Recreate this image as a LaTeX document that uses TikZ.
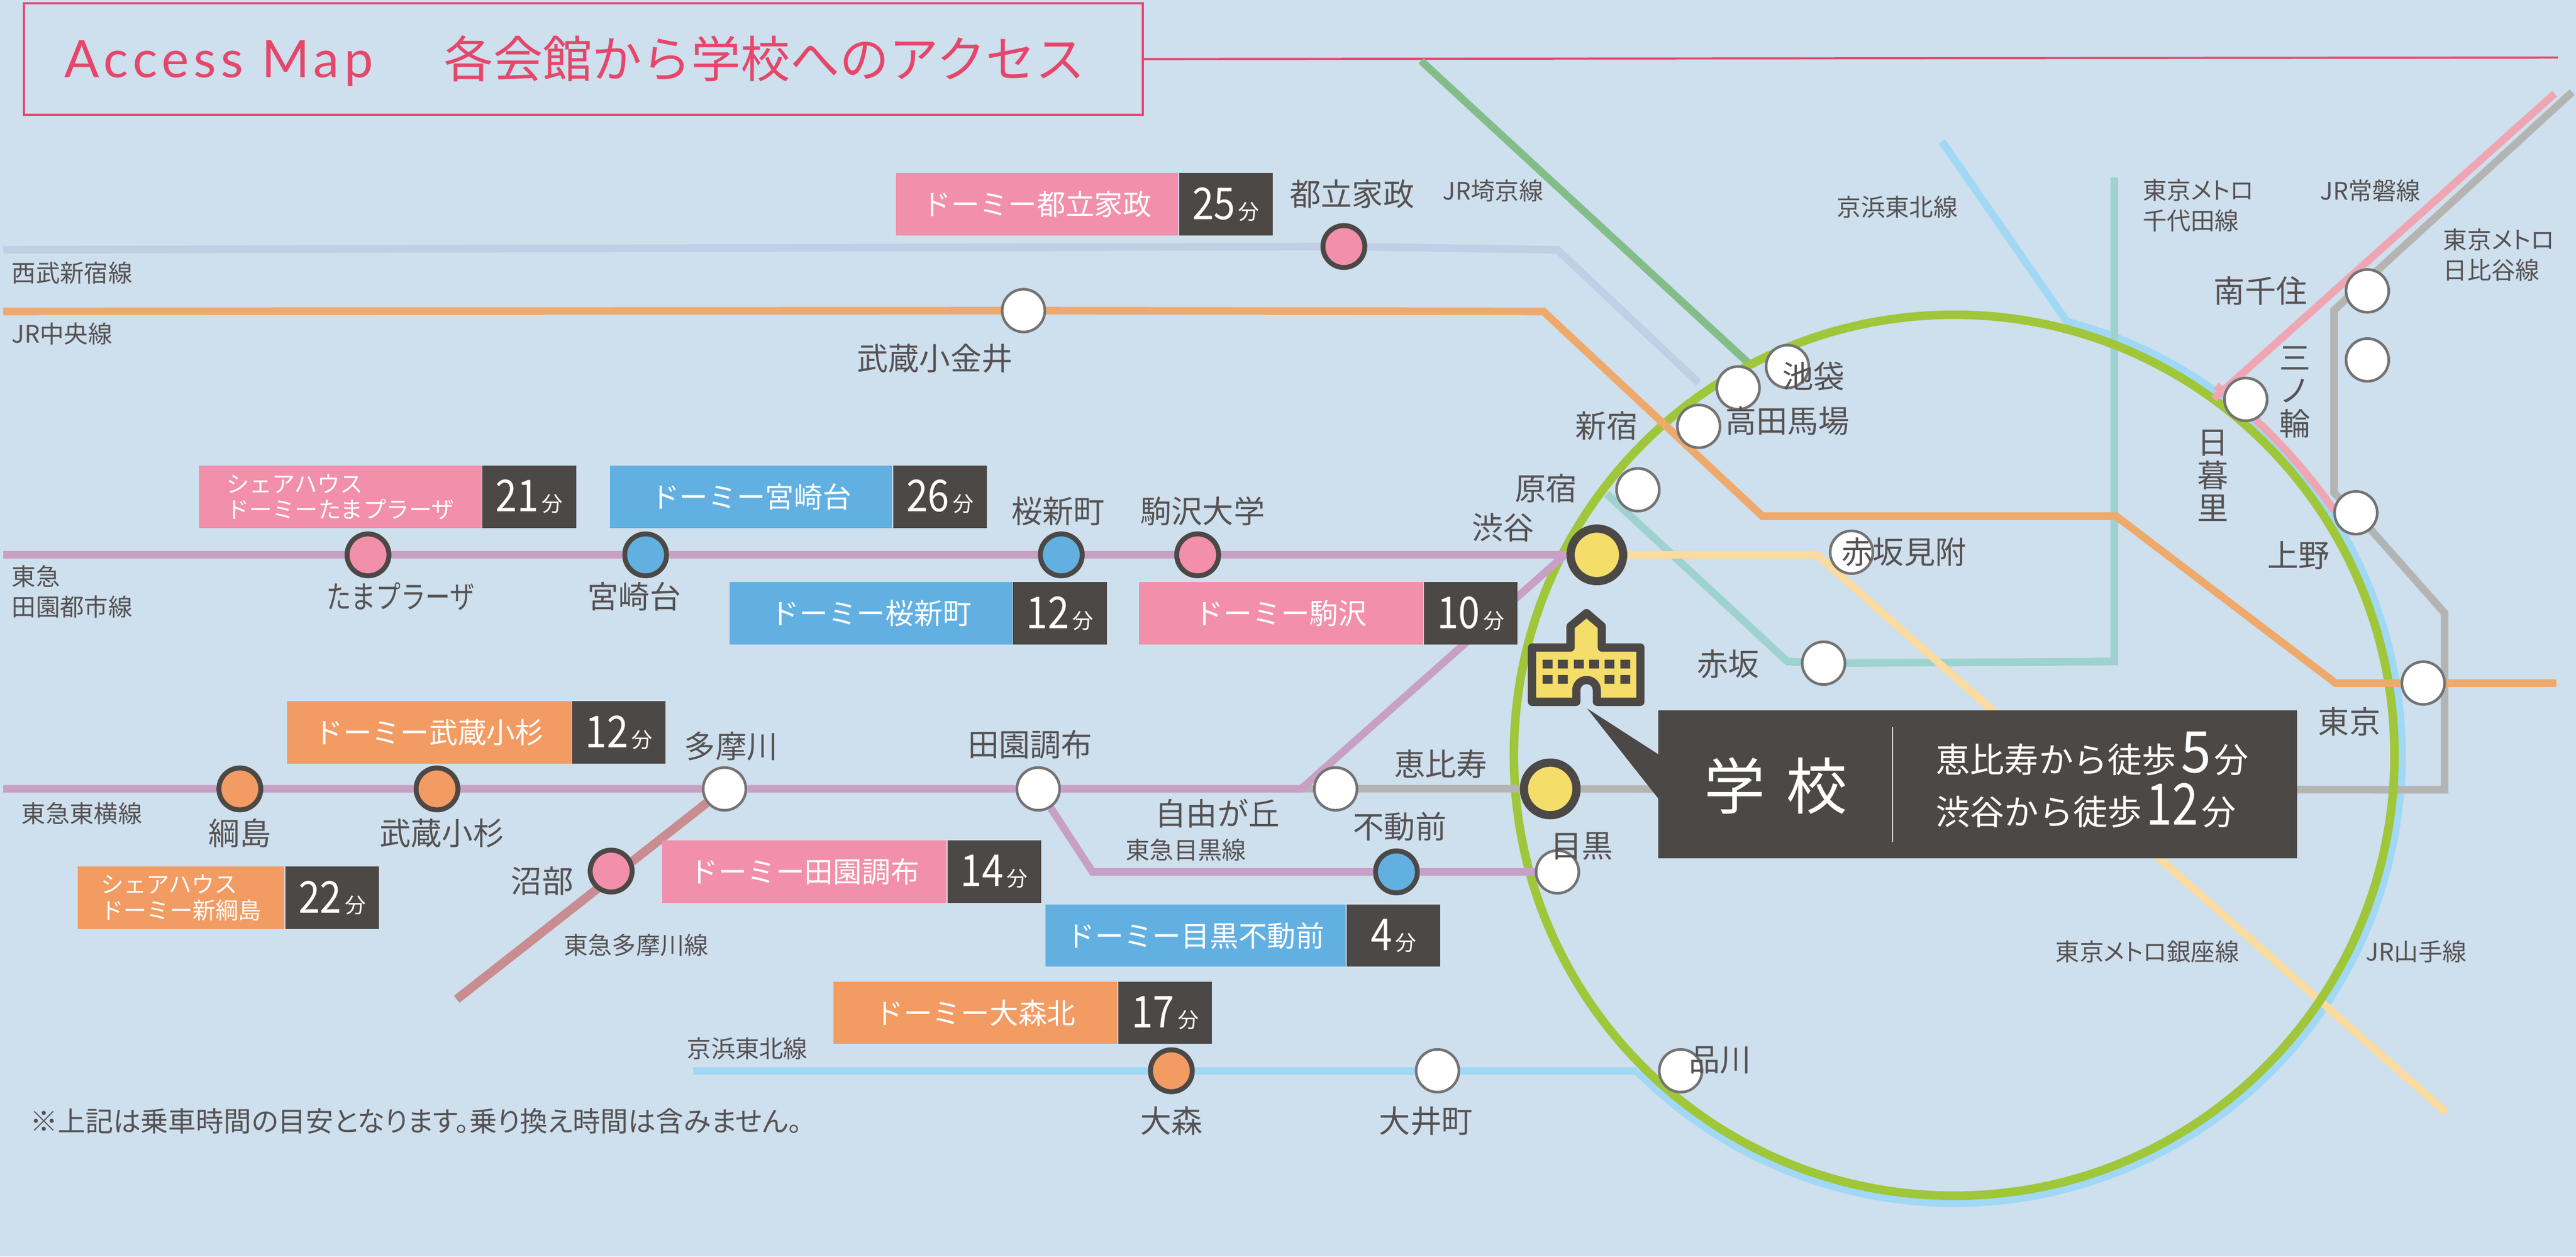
\documentclass[tikz,border=0pt]{standalone}
\usepackage{graphicx}
\usepackage{fontspec}
\setmainfont{Noto Sans CJK JP}
\newfontfamily\accessfont[LetterSpace=9.5]{Lato}
\newfontfamily\notefont[RawFeature=+palt]{Noto Sans CJK JP}
\usetikzlibrary{backgrounds}
\def\u{.030217cm}
\definecolor{pagebg}{HTML}{CEDFED}
\definecolor{inkdark}{HTML}{4C4846}
\definecolor{inktext}{HTML}{565253}
\definecolor{titlered}{HTML}{E5476B}
\definecolor{boxpink}{HTML}{F28FAB}
\definecolor{boxblue}{HTML}{62B0E2}
\definecolor{boxorange}{HTML}{F29B63}
\definecolor{schoolyellow}{HTML}{F4DD68}
\definecolor{ringgreen}{HTML}{A0C639}
\definecolor{ringblue}{HTML}{A0D8F5}
\definecolor{chuoorange}{HTML}{EFA96B}
\definecolor{seibublue}{HTML}{C0CEE6}
\definecolor{saikyogreen}{HTML}{82BD8A}
\definecolor{chiyodateal}{HTML}{9DD2CE}
\definecolor{ginzayellow}{HTML}{FBDB9E}
\definecolor{tokyupurple}{HTML}{C8A0C5}
\definecolor{tamarose}{HTML}{C98C90}
\definecolor{hibiyagray}{HTML}{B4B5B3}
\definecolor{jobanpink}{HTML}{EFA6B2}
\newcommand{\mins}[1]{\scalebox{.88}[1]{\fontsize{23}{23}\selectfont #1}\,{\fontsize{11}{12}\selectfont 分}}
\newcommand{\walkmins}[2]{\hspace{.08cm}\scalebox{#1}[1]{\fontsize{30}{30}\selectfont #2}\hspace{.06cm}{\fontsize{18}{20}\selectfont 分}}
\tikzset{
  railline/.style={line width=4.6*\u},
  stwhite/.style={circle,draw=gray!90!black,fill=white,line width=1.6*\u,minimum size=26*\u,inner sep=0},
  stpink/.style={circle,draw=inkdark,fill=boxpink,line width=3*\u,minimum size=25.5*\u,inner sep=0},
  stblue/.style={circle,draw=inkdark,fill=boxblue,line width=3*\u,minimum size=25.5*\u,inner sep=0},
  storange/.style={circle,draw=inkdark,fill=boxorange,line width=3*\u,minimum size=25.5*\u,inner sep=0},
  stschool/.style={circle,draw=inkdark,fill=schoolyellow,line width=5*\u,minimum size=32*\u,inner sep=0},
  stlabel/.style={text=inktext,inner sep=0,align=center,font=\fontsize{16.3}{19}\selectfont},
  stvert/.style={stlabel,font=\fontsize{16.3}{17.2}\selectfont},
  linelabel/.style={text=inktext,inner sep=0,align=left,anchor=west,font=\fontsize{12.6}{16}\selectfont},
  linepalt/.style={linelabel,font=\notefont\fontsize{12.6}{16}\selectfont},
  namebox/.style={text=white,inner sep=0,minimum height=38*\u,anchor=north west,align=left,font=\fontsize{15}{16}\selectfont},
  namesmall/.style={namebox,font=\fontsize{12}{13.5}\selectfont},
  timebox/.style={fill=inkdark,text=white,inner sep=0,minimum width=57*\u,minimum height=38*\u,anchor=west},
}

\begin{document}
\begin{tikzpicture}[x=.030217cm,y=-.030217cm]
  \useasboundingbox (0,0) rectangle (1568,764.5);

  % Title
  \node[draw=titlered,line width=1.3*\u,inner sep=0,minimum width=681*\u,minimum height=68*\u,anchor=north west] (titlebox) at (14,1.3) {};
  \coordinate (titleend) at (1557,35);
  \node[text=titlered,inner sep=0,anchor=base west,font=\accessfont\fontsize{27}{27}\selectfont] (titleen) at (39,47) {Access Map};
  \node[text=titlered,inner sep=0,anchor=base west,font=\fontsize{25.9}{26}\selectfont] (titleja) at (270,47) {各会館から学校へのアクセス};

  % Stations
  \node[stpink] (toritsu) at (818,150) {};
  \node[stwhite] (koganei) at (623,189) {};
  \node[stpink] (tama) at (224,337.6) {};
  \node[stblue] (miyazaki) at (393,337.6) {};
  \node[stblue] (sakura) at (646,337.6) {};
  \node[stpink] (komazawa) at (729,337.6) {};
  \node[stschool] (shibuya) at (972,337.6) {};
  \node[storange] (tsunashima) at (146,480) {};
  \node[storange] (kosugi) at (266,480) {};
  \node[stwhite] (tamagawa) at (441,480) {};
  \node[stwhite] (denen) at (632,480) {};
  \node[stwhite] (jiyugaoka) at (813,480) {};
  \node[stschool] (ebisu) at (943.6,480) {};
  \node[stpink] (numabe) at (372,530) {};
  \node[stblue] (fudomae) at (850,530.5) {};
  \node[stwhite] (meguro) at (948,530.5) {};
  \node[storange] (omori) at (713,651.5) {};
  \node[stwhite] (oimachi) at (875,651.5) {};
  \node[stwhite] (shinagawa) at (1023,651.5) {};
  \node[stwhite] (ikebukuro) at (1088,223) {};
  \node[stwhite] (takada) at (1058,236) {};
  \node[stwhite] (shinjuku) at (1034,259.4) {};
  \node[stwhite] (harajuku) at (997,298) {};
  \node[stwhite] (mitsuke) at (1127,336) {};
  \node[stwhite] (akasaka) at (1110,403.5) {};
  \node[stwhite] (nippori) at (1367,243) {};
  \node[stwhite] (ueno) at (1434,312) {};
  \node[stwhite] (minami) at (1441,177) {};
  \node[stwhite] (minowa) at (1441,219) {};
  \node[stwhite] (tokyo) at (1475,415.6) {};

  % Bends and free ends of the lines
  \coordinate (seibua) at (2,152);
  \coordinate (seibub) at (948,152);
  \coordinate (seibuc) at (1034,233);
  \coordinate (chuoa) at (2,189.5);
  \coordinate (chuob) at (939.5,189.5);
  \coordinate (chuoc) at (1072.7,314);
  \coordinate (chuod) at (1288,314);
  \coordinate (chuoe) at (1421.6,415.6);
  \coordinate (chuof) at (1556,415.6);
  \coordinate (saikyoa) at (865,37);
  \coordinate (saikyob) at (1066,222.5);
  \coordinate (ktopa) at (1182,86);
  \coordinate (ktopb) at (1258.2,195.8);
  \coordinate (kbota) at (422,651.5);
  \coordinate (kbotb) at (996.8,651.5);
  \coordinate (chiya) at (1287,108);
  \coordinate (chiyb) at (1287,402.5);
  \coordinate (chiyc) at (1088,402.5);
  \coordinate (chiyd) at (978,300.5);
  \coordinate (ginzaa) at (1106,337.6);
  \coordinate (ginzab) at (1489,677);
  \coordinate (dena) at (2,337.6);
  \coordinate (toya) at (2,480);
  \coordinate (toyb) at (792,480);
  \coordinate (toyc) at (952.5,337.6);
  \coordinate (mega) at (665,530.5);
  \coordinate (tama1) at (278,608);
  \coordinate (hiba) at (1488,480.5);
  \coordinate (hibb) at (1488,373);
  \coordinate (hibc) at (1420.7,300);
  \coordinate (hibd) at (1420.7,188.7);
  \coordinate (hibe) at (1565.7,56);
  \coordinate (joba) at (1555,57);
  \coordinate (jobb) at (1347.6,242.7);
  \coordinate (jobc) at (1349,234.7);
  \coordinate (jobd) at (1421,311);

  \begin{scope}[on background layer]
    \fill[pagebg] (0,0) rectangle (1568,764.5);
    \draw[titlered,line width=1.3*\u] (titlebox.east) -- (titleend);

    % Lines under the ring
    \draw[railline,seibublue] (seibua) -- (toritsu) -- (seibub) -- (seibuc);
    \draw[railline,saikyogreen] (saikyoa) -- (saikyob);
    \draw[railline,ringblue] (ktopa) -- (ktopb) arc[start angle=-75.4,end angle=135,radius=272.5];
    \draw[railline,ringblue] (kbota) -- (omori) -- (oimachi) -- (kbotb);
    \draw[railline,chiyodateal] (chiya) -- (chiyb) -- (akasaka) -- (chiyc) -- (chiyd);
    \draw[railline,ginzayellow] (shibuya) -- (ginzaa) -- (ginzab);
    \draw[railline,hibiyagray] (ebisu) -- (hiba) -- (hibb) -- (ueno) -- (hibc) -- (hibd) -- (hibe);

    % Yamanote ring
    \node[circle,draw=ringgreen,line width=5.2*\u,minimum size=536*\u,inner sep=0] (ring) at (1189.5,459.5) {};

    % Lines over the ring
    \draw[railline,hibiyagray] (toyb) -- (jiyugaoka) -- (ebisu);
    \draw[railline,jobanpink] (joba) -- (jobb);
    \draw[railline,jobanpink] (jobc) .. controls (1375,255) and (1402,283) .. (jobd);
    \draw[railline,chuoorange] (chuoa) -- (koganei) -- (chuob) -- (chuoc) -- (chuod) -- (chuoe) -- (tokyo) -- (chuof);
    \draw[railline,tokyupurple] (dena) -- (tama) -- (miyazaki) -- (sakura) -- (komazawa) -- (shibuya);
    \draw[railline,tokyupurple] (toya) -- (tsunashima) -- (kosugi) -- (tamagawa) -- (denen) -- (toyb) -- (toyc);
    \draw[railline,tokyupurple] (denen) -- (mega) -- (fudomae) -- (meguro);
    \draw[tamarose,line width=5.4*\u] (tama1) -- (tamagawa);
  \end{scope}

  % Residence boxes
  \node[namebox,fill=boxpink,minimum width=172*\u] (dtoritsu) at (545,105) {ドーミー都立家政};
  \node[timebox] (ttoritsu) at (dtoritsu.east) {\mins{25}};
  \node[namesmall,fill=boxpink,minimum width=172*\u] (dtama) at (121,283) {シェアハウス\\ドーミーたまプラーザ};
  \node[timebox] (ttama) at (dtama.east) {\mins{21}};
  \node[namebox,fill=boxblue,minimum width=172*\u] (dmiyazaki) at (371,283) {ドーミー宮崎台};
  \node[timebox] (tmiyazaki) at (dmiyazaki.east) {\mins{26}};
  \node[namebox,fill=boxblue,minimum width=172*\u] (dsakura) at (444,354) {ドーミー桜新町};
  \node[timebox] (tsakura) at (dsakura.east) {\mins{12}};
  \node[namebox,fill=boxpink,minimum width=173*\u] (dkomazawa) at (693,354) {ドーミー駒沢};
  \node[timebox] (tkomazawa) at (dkomazawa.east) {\mins{10}};
  \node[namebox,fill=boxorange,minimum width=173*\u] (dkosugi) at (174.5,426.5) {ドーミー武蔵小杉};
  \node[timebox] (tkosugi) at (dkosugi.east) {\mins{12}};
  \node[namesmall,fill=boxorange,minimum width=126*\u] (dshintsuna) at (47,527) {シェアハウス\\ドーミー新綱島};
  \node[timebox] (tshintsuna) at (dshintsuna.east) {\mins{22}};
  \node[namebox,fill=boxpink,minimum width=173*\u] (ddenen) at (403,511) {ドーミー田園調布};
  \node[timebox] (tdenen) at (ddenen.east) {\mins{14}};
  \node[namebox,fill=boxblue,minimum width=183*\u] (dfudomae) at (636,550) {ドーミー目黒不動前};
  \node[timebox] (tfudomae) at (dfudomae.east) {\mins{4}};
  \node[namebox,fill=boxorange,minimum width=173*\u] (domori) at (507,597) {ドーミー大森北};
  \node[timebox] (tomori) at (domori.east) {\mins{17}};

  % School icon
  \filldraw[draw=inkdark,fill=schoolyellow,line width=5*\u,line join=round] (932.5,394) -- (956,394) -- (956,381) -- (965.7,373) -- (975,381) -- (975,394) -- (998.5,394) -- (998.5,427) -- (972,427) -- (972,420) arc[start angle=0,end angle=-180,radius=6.25] -- (959.5,427) -- (932.5,427) -- cycle;
  \fill[inkdark] (939,401.4) rectangle (945,406.7) (948.3,401.4) rectangle (954.3,406.7) (958,401.4) rectangle (964,406.7) (967.3,401.4) rectangle (973.3,406.7) (976.7,401.4) rectangle (982.7,406.7) (986.3,401.4) rectangle (992.3,406.7);
  \fill[inkdark] (939,410.7) rectangle (945,416) (948.3,410.7) rectangle (954.3,416) (976.7,410.7) rectangle (982.7,416) (986.3,410.7) rectangle (992.3,416);

  % School box
  \node[fill=inkdark,inner sep=0,minimum width=389*\u,minimum height=90*\u,anchor=north west] (schoolbox) at (1009,432) {};
  \coordinate (pointertip) at (966,431);
  \fill[inkdark] (pointertip) -- (1009.5,459) -- (1009.5,486) -- cycle;
  \node[text=white,inner sep=0,font=\fontsize{32}{32}\selectfont] (schoolname) at (1081,478) {学\hspace{.38cm}校};
  \node[inner sep=0] (divtop) at (1152,441.5) {};
  \node[inner sep=0] (divbot) at (1152,513) {};
  \draw[white!80!inkdark,line width=.8*\u] (divtop) -- (divbot);
  \node[text=white,inner sep=0,anchor=base west,font=\fontsize{18}{20}\selectfont] (walkebisu) at (1178,470) {恵比寿から徒歩\walkmins{.95}{5}};
  \node[text=white,inner sep=0,anchor=base west,font=\fontsize{18}{20}\selectfont] (walkshibuya) at (1178,502) {渋谷から徒歩\walkmins{.82}{12}};

  % Station names
  \node[stlabel] (ltoritsu) at (823,118) {都立家政};
  \node[stlabel] (lkoganei) at (569,218) {武蔵小金井};
  \node[stlabel,xscale=.8] (ltama) at (244,363) {たまプラーザ};
  \node[stlabel] (lmiyazaki) at (386,363) {宮崎台};
  \node[stlabel] (lsakura) at (644,311) {桜新町};
  \node[stlabel] (lkomazawa) at (732,311) {駒沢大学};
  \node[stlabel] (lshibuya) at (915,321) {渋谷};
  \node[stlabel] (lharajuku) at (941,297) {原宿};
  \node[stlabel] (lshinjuku) at (978,259) {新宿};
  \node[stlabel] (ltakada) at (1088,256) {高田馬場};
  \node[stlabel] (likebukuro) at (1104,229) {池袋};
  \node[stlabel] (lmitsuke) at (1159,336) {赤坂見附};
  \node[stlabel] (lakasaka) at (1052,404) {赤坂};
  \node[stlabel] (lueno) at (1399,338) {上野};
  \node[stlabel] (ltokyo) at (1430,439) {東京};
  \node[stlabel] (lminami) at (1376,177) {南千住};
  \node[stvert] (lminowa) at (1397,238.5) {三\\ノ\\輪};
  \node[stvert] (lnippori) at (1347,289.5) {日\\暮\\里};
  \node[stlabel] (lebisu) at (877,465) {恵比寿};
  \node[stlabel] (ljiyugaoka) at (741,495) {自由が丘};
  \node[stlabel] (lfudomae) at (852,503) {不動前};
  \node[stlabel] (lmeguro) at (963,515) {目黒};
  \node[stlabel] (lshinagawa) at (1047,645) {品川};
  \node[stlabel] (ltamagawa) at (445,454) {多摩川};
  \node[stlabel] (ldenen) at (627,453) {田園調布};
  \node[stlabel] (ltsunashima) at (146,507) {綱島};
  \node[stlabel] (lkosugi) at (269,507) {武蔵小杉};
  \node[stlabel] (lnumabe) at (330,536) {沼部};
  \node[stlabel] (lomori) at (713,682) {大森};
  \node[stlabel] (loimachi) at (868,682) {大井町};

  % Line names
  \node[linelabel] (nseibu) at (7,166) {西武新宿線};
  \node[linelabel] (nchuo) at (7,203) {JR中央線};
  \node[linelabel] (nsaikyo) at (878,116) {JR埼京線};
  \node[linelabel] (nkeihina) at (1118,126) {京浜東北線};
  \node[linepalt] (nchiyoda) at (1304,125) {東京メトロ\\千代田線};
  \node[linelabel] (njoban) at (1412,116) {JR常磐線};
  \node[linepalt] (nhibiya) at (1487,155) {東京メトロ\\日比谷線};
  \node[linelabel] (nden) at (7,360) {東急\\田園都市線};
  \node[linelabel] (ntoyoko) at (13,495) {東急東横線};
  \node[linelabel] (nmeguro) at (685,517) {東急目黒線};
  \node[linelabel] (ntama) at (343,575) {東急多摩川線};
  \node[linepalt] (nginza) at (1251,579) {東京メトロ銀座線};
  \node[linelabel] (nyamanote) at (1440,579) {JR山手線};
  \node[linelabel] (nkeihinb) at (418,638) {京浜東北線};

  % Note
  \node[text=inktext,inner sep=0,anchor=west,font=\notefont\fontsize{14.5}{16}\selectfont] (note) at (18,682) {※上記は乗車時間の目安となります。乗り換え時間は含みません。};
\end{tikzpicture}
\end{document}
